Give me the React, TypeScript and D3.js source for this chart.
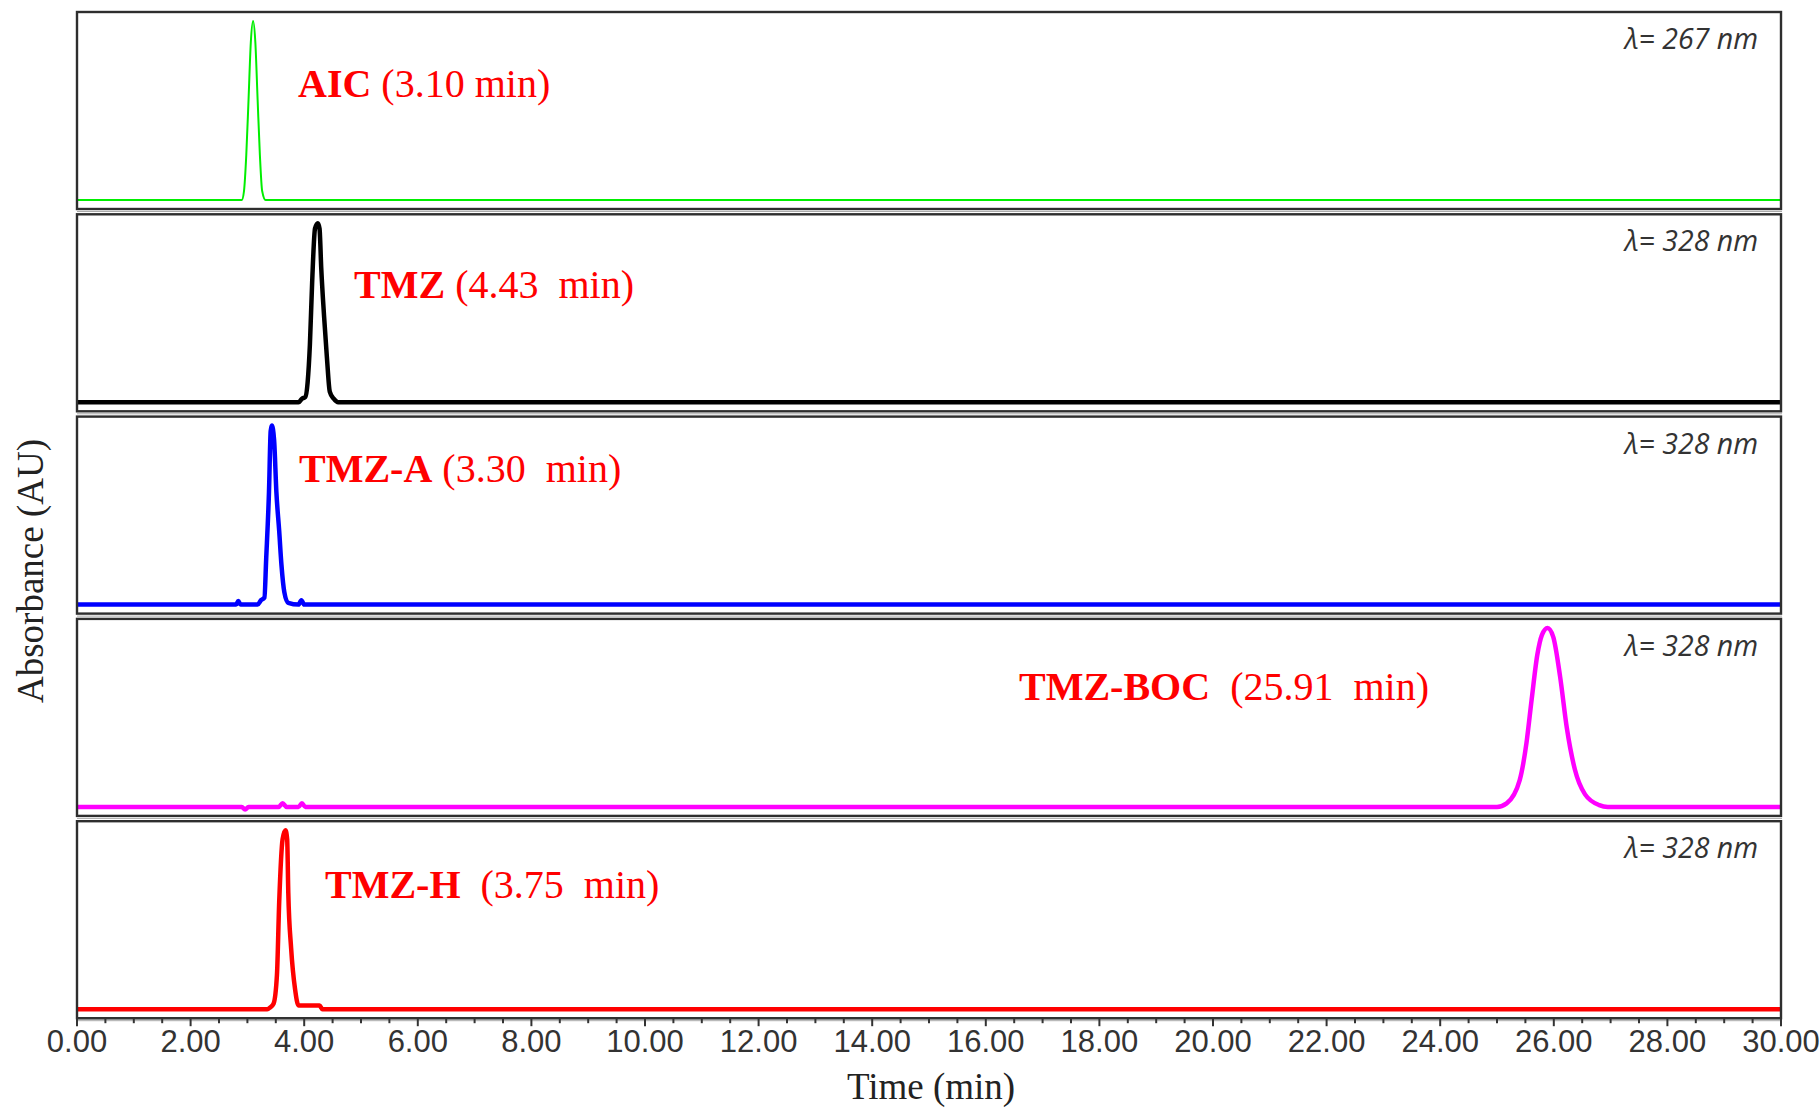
import React from "react";
import * as d3 from "d3";

// ---------- data ----------
const COMPOUNDS = ["AIC", "TMZ", "TMZ-A", "TMZ-BOC", "TMZ-H"];
const RET_LABELS = ["(3.10 min)", "(4.43  min)", "(3.30  min)", "(25.91  min)", "(3.75  min)"];
const WAVELENGTHS = ["λ= 267 nm", "λ= 328 nm", "λ= 328 nm", "λ= 328 nm", "λ= 328 nm"];

const AIC_T = [0, 2.9, 2.94, 2.98, 3.02, 3.06, 3.1, 3.14, 3.18, 3.22, 3.26, 3.32, 30];
const AIC_V = [0, 0, 0.05, 0.25, 0.56, 0.88, 1.0, 0.88, 0.56, 0.25, 0.05, 0, 0];

const TMZ_T = [0, 3.9, 3.96, 4.02, 4.06, 4.1, 4.14, 4.19, 4.24, 4.27, 4.3, 4.35, 4.4, 4.45, 4.52, 4.6, 30];
const TMZ_V = [0, 0, 0.02, 0.03, 0.11, 0.32, 0.67, 0.97, 1.0, 0.97, 0.75, 0.48, 0.25, 0.06, 0.02, 0, 0];

const TMZA_T = [0, 2.8, 2.84, 2.88, 3.18, 3.24, 3.3, 3.33, 3.38, 3.41, 3.43, 3.47, 3.51, 3.56, 3.6, 3.65, 3.72, 3.9, 3.95, 4.0, 30];
const TMZA_V = [0, 0, 0.02, 0, 0, 0.025, 0.04, 0.25, 0.63, 0.97, 1.0, 0.92, 0.63, 0.41, 0.22, 0.07, 0.01, 0, 0.025, 0, 0];

const BOC_T = [0, 2.9, 2.96, 3.02, 3.55, 3.62, 3.69, 3.9, 3.96, 4.02, 25.0, 25.17, 25.4, 25.52, 25.61, 25.71, 25.79, 25.89, 25.99, 26.11, 26.23, 26.37, 26.55, 26.8, 26.95, 30];
const BOC_V = [0, 0, -0.015, 0, 0, 0.02, 0, 0, 0.02, 0, 0, 0.02, 0.15, 0.36, 0.6, 0.85, 0.96, 1.0, 0.95, 0.73, 0.44, 0.21, 0.07, 0.01, 0, 0];

const TMZH_T = [0, 3.35, 3.4, 3.46, 3.52, 3.56, 3.62, 3.67, 3.7, 3.72, 3.77, 3.84, 3.9, 4.0, 4.27, 4.32, 30];
const TMZH_V = [0, 0, 0.01, 0.03, 0.19, 0.6, 0.95, 1.0, 0.95, 0.65, 0.34, 0.11, 0.02, 0.02, 0.02, 0, 0];

const SERIES_T = [AIC_T, TMZ_T, TMZA_T, BOC_T, TMZH_T];
const SERIES_V = [AIC_V, TMZ_V, TMZA_V, BOC_V, TMZH_V];

const X_TICKS = [0, 2, 4, 6, 8, 10, 12, 14, 16, 18, 20, 22, 24, 26, 28, 30];
const X_MINOR = [0.5, 1, 1.5];
const X_LABEL = "Time (min)";
const Y_LABEL = "Absorbance (AU)";

// ---------- layout / style ----------
const W = 1820;
const H = 1109;
const LEFT = 77;
const RIGHT = 1781;
const PANEL_TOP = 12;
const PANEL_PITCH = 202.3;
const PANEL_H = 197;
const COLORS = ["#00ee00", "#000000", "#0000ff", "#ff00ff", "#ff0000"];
const WIDTHS = [2, 4.5, 4.5, 4.5, 4.5];
const NAME_GAP = [" ", " ", " ", "  ", "  "];
const LABEL_POS = [
  [298, 97],
  [354, 298],
  [299, 482],
  [1019, 700],
  [325, 898],
];

export default function App() {
  const x = d3.scaleLinear().domain([0, 30]).range([LEFT, RIGHT]);
  const panels = COMPOUNDS.map((name, i) => {
    const top = PANEL_TOP + i * PANEL_PITCH;
    const y = d3.scaleLinear().domain([0, 1]).range([top + PANEL_H - 9, top + 9]);
    const pts = SERIES_T[i].map((t, k) => [t, SERIES_V[i][k]] as [number, number]);
    const line = d3
      .line<[number, number]>()
      .x((d) => x(d[0]))
      .y((d) => y(d[1]))
      .curve(d3.curveMonotoneX);
    return { name, top, path: line(pts) || "" };
  });
  const axisY = PANEL_TOP + 4 * PANEL_PITCH + PANEL_H;
  const minor: number[] = [];
  X_TICKS.slice(0, -1).forEach((t) => X_MINOR.forEach((m) => minor.push(t + m)));

  return (
    <svg
      width={W}
      height={H}
      style={{ position: "absolute", left: 0, top: 0, background: "#fff" }}
    >
      <rect x={0} y={0} width={W} height={H} fill="#fff" />
      {panels.map((p, i) => (
        <g key={p.name}>
          <defs>
            <clipPath id={"clip" + i}>
              <rect x={LEFT} y={p.top} width={RIGHT - LEFT} height={PANEL_H} />
            </clipPath>
          </defs>
          <path
            d={p.path}
            fill="none"
            stroke={COLORS[i]}
            strokeWidth={WIDTHS[i]}
            strokeLinejoin="round"
            clipPath={`url(#clip${i})`}
          />
          <rect
            x={LEFT}
            y={p.top}
            width={RIGHT - LEFT}
            height={PANEL_H}
            fill="none"
            stroke="#2e2e2e"
            strokeWidth={2.4}
          />
          <line
            x1={LEFT}
            x2={RIGHT + 1}
            y1={p.top + PANEL_H + 2.5}
            y2={p.top + PANEL_H + 2.5}
            stroke="#aaa"
            strokeWidth={1}
          />
          <text
            x={RIGHT - 23}
            y={p.top + 37}
            textAnchor="end"
            fontFamily="'Open Sans', 'DejaVu Sans', sans-serif"
            fontStyle="italic"
            fontSize={28.5}
            fill="#333"
          >
            {WAVELENGTHS[i]}
          </text>
          <text
            x={LABEL_POS[i][0]}
            y={LABEL_POS[i][1]}
            fontFamily="'Liberation Serif', 'Times New Roman', serif"
            fontSize={40}
            fill="#ff0000"
            style={{ whiteSpace: "pre" }}
          >
            <tspan fontWeight="bold">{p.name}</tspan>
            <tspan>{NAME_GAP[i] + RET_LABELS[i]}</tspan>
          </text>
        </g>
      ))}
      {/* x axis */}
      <line x1={LEFT} x2={RIGHT} y1={axisY} y2={axisY} stroke="#333" strokeWidth={2} />
      {X_TICKS.map((t) => (
        <g key={"M" + t}>
          <line x1={x(t)} x2={x(t)} y1={axisY} y2={axisY + 8} stroke="#333" strokeWidth={2} />
          <text
            x={x(t)}
            y={axisY + 34}
            textAnchor="middle"
            fontFamily="'Liberation Sans', Arial, sans-serif"
            fontSize={31}
            fill="#333"
          >
            {t.toFixed(2)}
          </text>
        </g>
      ))}
      {minor.map((t) => (
        <line key={"m" + t} x1={x(t)} x2={x(t)} y1={axisY} y2={axisY + 5} stroke="#333" strokeWidth={2} />
      ))}
      <text
        x={(LEFT + RIGHT) / 2 + 2}
        y={1099}
        textAnchor="middle"
        fontFamily="'Liberation Serif', 'Times New Roman', serif"
        fontSize={37}
        fill="#222"
      >
        {X_LABEL}
      </text>
      <text
        transform={`translate(43, 571) rotate(-90)`}
        textAnchor="middle"
        fontFamily="'Liberation Serif', 'Times New Roman', serif"
        fontSize={37}
        fill="#222"
      >
        {Y_LABEL}
      </text>
    </svg>
  );
}
